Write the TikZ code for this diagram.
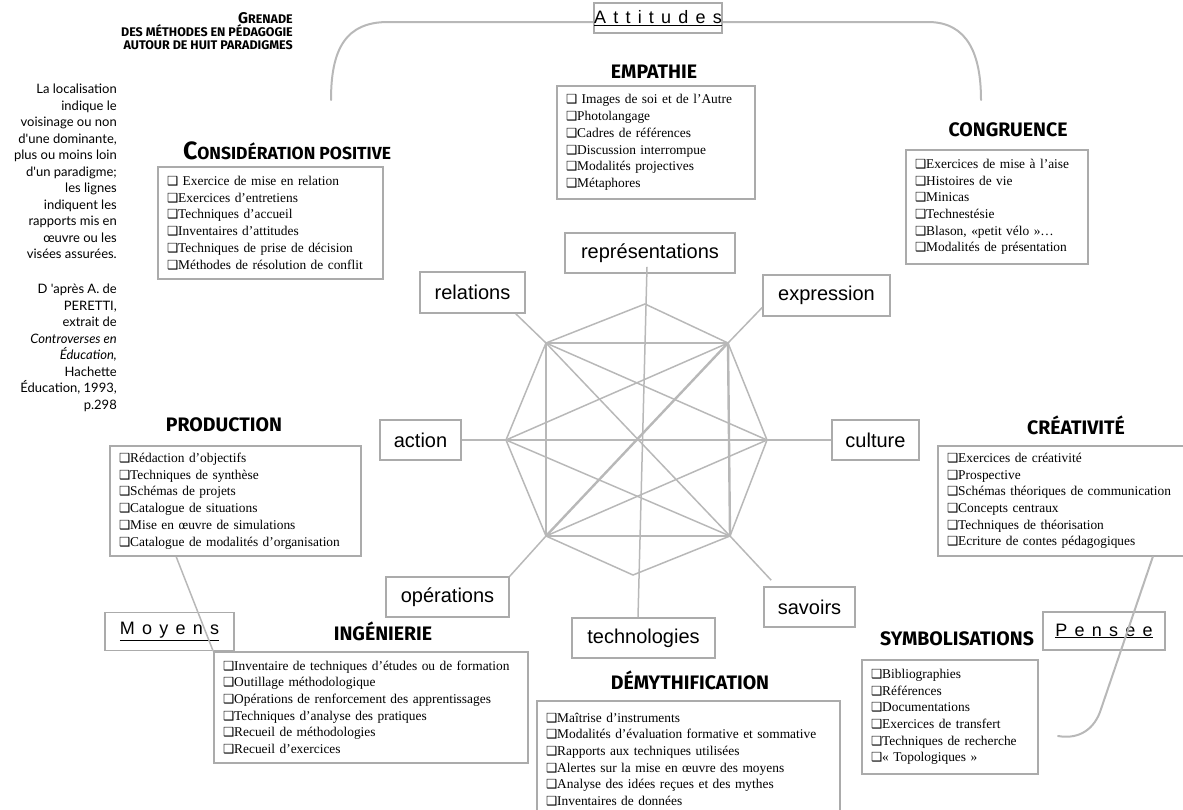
\documentclass[tikz,border=0pt]{standalone}
\usepackage{fontspec}
\setmainfont{Liberation Serif}
\newfontfamily\lsans{Liberation Sans}
\newfontfamily\spaced{Liberation Sans}[LetterSpace=40]
\newfontfamily\hfont{Fira Sans}
\newfontfamily\cfont{Lato}
\newfontfamily\dv{DejaVu Sans}
\definecolor{bgray}{HTML}{ABABAB}
\definecolor{lgray}{HTML}{B8B8B8}
\newcommand{\cbx}{{\dv\fontsize{12.5}{10}\selectfont ❑}}
\hyphenpenalty=10000
\begin{document}
\begin{tikzpicture}[x=1pt,y=-1pt,
  lbl/.style={draw=bgray, line width=1.6pt, fill=white, inner sep=0pt, font=\lsans\fontsize{20}{20}\selectfont},
  listbox/.style={draw=bgray, line width=1.6pt, fill=white, inner xsep=9pt, inner ysep=0pt, align=left, font=\fontsize{13.4}{16.7}\selectfont},
  head/.style={inner sep=0pt, font=\hfont\bfseries\fontsize{19.5}{19.5}\selectfont},
  grp/.style={draw=bgray, line width=1.6pt, fill=white, inner sep=0pt, font=\spaced\fontsize{18}{18}\selectfont},
  conn/.style={draw=lgray, line width=1.5pt},
  heavy/.style={draw=lgray, line width=2.4pt},
  arcline/.style={draw=lgray, line width=2pt, line cap=round}
]
\useasboundingbox (0,0) rectangle (1183,809);

% ---- top arc (Attitudes)
\coordinate (aL) at (331,100);
\coordinate (aR) at (981,100);
\draw[arcline] (aL) .. controls (331,50) and (345,22) .. (388,22) -- (928,22) .. controls (968,22) and (981,55) .. (aR);

% ---- title and side note
\node[anchor=north east, align=right, inner sep=0pt, font=\hfont\bfseries\fontsize{12.5}{13.2}\selectfont] (title) at (293,12)
  {{\fontsize{15.5}{13.2}\selectfont G}RENADE\\DES MÉTHODES EN PÉDAGOGIE\\AUTOUR DE HUIT PARADIGMES};
\node[anchor=north east, align=right, inner sep=0pt, font=\cfont\fontsize{13}{16.5}\selectfont] (note) at (117,84)
  {La localisation\\indique le\\voisinage ou non\\d'une dominante,\\plus ou moins loin\\d'un paradigme;\\les lignes\\indiquent les\\rapports mis en\\œuvre ou les\\visées assurées.\\[18.5pt]
   D 'après A. de\\PERETTI,\\extrait de\\\textit{Controverses en}\\\textit{Éducation,}\\Hachette\\Éducation, 1993,\\p.298};

% ---- group labels
\node[grp, minimum width=124, minimum height=30] (att) at (658,18) {\underline{Attitudes}};
\node[grp, minimum width=129, minimum height=38] (moy) at (169.5,631.5) {\underline{Moyens}};
\node[grp, minimum width=122, minimum height=38] (pen) at (1104,631) {\underline{Pensee}};

% ---- paradigm headings
\node[head] (hemp) at (654,72) {EMPATHIE};
\node[head, font=\hfont\bfseries\fontsize{17.5}{17.5}\selectfont] (hcon) at (287,151) {{\fontsize{25}{25}\selectfont C}ONSIDÉRATION POSITIVE};
\node[head] (hcong) at (1008,130) {CONGRUENCE};
\node[head] (hprod) at (224,425) {PRODUCTION};
\node[head] (hcrea) at (1076,425) {CRÉATIVITÉ};
\node[head] (hing) at (383,631) {INGÉNIERIE};
\node[head] (hdem) at (690,680) {DÉMYTHIFICATION};
\node[head] (hsym) at (957,639) {SYMBOLISATIONS};

% ---- lists
\node[listbox, minimum width=198, minimum height=113, text width=180] (emp) at (656,142.5)
  {\cbx{} Images de soi et de l'Autre\\\cbx Photolangage\\\cbx Cadres de références\\\cbx Discussion interrompue\\\cbx Modalités projectives\\\cbx Métaphores};
\node[listbox, minimum width=225, minimum height=112, text width=207] (con) at (270.5,223)
  {\cbx{} Exercice de mise en relation\\\cbx Exercices d'entretiens\\\cbx Techniques d'accueil\\\cbx Inventaires d'attitudes\\\cbx Techniques de prise de décision\\\cbx Méthodes de résolution de conflit};
\node[listbox, minimum width=182, minimum height=114, text width=164] (cong) at (997,207)
  {\cbx Exercices de mise à l'aise\\\cbx Histoires de vie\\\cbx Minicas\\\cbx Technestésie\\\cbx Blason, «petit vélo »…\\\cbx Modalités de présentation};
\node[listbox, minimum width=251, minimum height=110, text width=233] (prod) at (235.5,501)
  {\cbx Rédaction d'objectifs\\\cbx Techniques de synthèse\\\cbx Schémas de projets\\\cbx Catalogue de situations\\\cbx Mise en œuvre de simulations\\\cbx Catalogue de modalités d'organisation};
\node[listbox, minimum width=246, minimum height=110, text width=228] (crea) at (1061,501)
  {\cbx Exercices de créativité\\\cbx Prospective\\\cbx Schémas théoriques de communication\\\cbx Concepts centraux\\\cbx Techniques de théorisation\\\cbx Ecriture de contes pédagogiques};
\node[listbox, minimum width=314, minimum height=111, text width=296] (ing) at (371,707.5)
  {\cbx Inventaire de techniques d'études ou de formation\\\cbx Outillage méthodologique\\\cbx Opérations de renforcement des apprentissages\\\cbx Techniques d'analyse des pratiques\\\cbx Recueil de méthodologies\\\cbx Recueil d'exercices};
\node[listbox, minimum width=303, minimum height=117, text width=285] (dem) at (688.5,759.5)
  {\cbx Maîtrise d'instruments\\\cbx Modalités d'évaluation formative et sommative\\\cbx Rapports aux techniques utilisées\\\cbx Alertes sur la mise en œuvre des moyens\\\cbx Analyse des idées reçues et des mythes\\\cbx Inventaires de données};
\node[listbox, minimum width=176, minimum height=114, text width=158] (sym) at (950,717)
  {\cbx Bibliographies\\\cbx Références\\\cbx Documentations\\\cbx Exercices de transfert\\\cbx Techniques de recherche\\\cbx « Topologiques »};

% ---- octagon labels
\node[lbl, minimum width=170, minimum height=40] (rep) at (650,253) {représentations};
\node[lbl, minimum width=105, minimum height=41] (rel) at (472.5,292.5) {relations};
\node[lbl, minimum width=127, minimum height=41] (expr) at (826.5,295.5) {expression};
\node[lbl, minimum width=81, minimum height=40] (act) at (420.5,440) {action};
\node[lbl, minimum width=87, minimum height=40] (cul) at (875.5,440) {culture};
\node[lbl, minimum width=123, minimum height=40] (ope) at (447.5,597) {opérations};
\node[lbl, minimum width=91, minimum height=40] (sav) at (809.5,607) {savoirs};
\node[lbl, minimum width=143, minimum height=40] (tech) at (643.5,638) {technologies};

% ---- octagon vertices
\coordinate (T) at (645,304);
\coordinate (UL) at (546,343);
\coordinate (UR) at (728,343);
\coordinate (L) at (506,440);
\coordinate (R) at (767,440);
\coordinate (LL) at (546,536);
\coordinate (LR) at (730,536);
\coordinate (B) at (633,575);

% octagon outline
\draw[conn] (T) -- (UR) -- (R) -- (LR) -- (B) -- (LL) -- (L) -- (UL) -- cycle;
% square
\draw[conn] (UL) -- (UR);
\draw[heavy] (UR) -- (LR);
\draw[conn] (LR) -- (LL) -- (UL);
% diagonals
\draw[conn] (UL) -- (LR);
\draw[heavy] (UR) -- (LL);
\draw[conn] (L) -- (UR);
\draw[conn] (L) -- (LR);
\draw[conn] (R) -- (UL);
\draw[conn] (R) -- (LL);
% axes to labels
\draw[heavy] (act.east) -- (cul.west);
\draw[conn] ([xshift=-3pt,yshift=7pt]rep.south) -- ([xshift=-5.5pt]tech.north);
\draw[conn] ([xshift=-10pt]rel.south east) -- (UL);
\draw[conn] ([yshift=-12pt]expr.west) -- (UR);
\draw[conn] (ope.north east) -- (LL);
\draw[conn] (LR) -- ([xshift=8pt,yshift=6pt]sav.north west);

% ---- group connectors
\draw[conn] ([xshift=67pt]prod.south west) -- (ing.north west);
\coordinate (pend) at (1058,736);
\draw[arcline] ([xshift=-32pt]crea.south east) -- (1100,712) .. controls (1092,733) and (1075,739) .. (pend);
\end{tikzpicture}
\end{document}
